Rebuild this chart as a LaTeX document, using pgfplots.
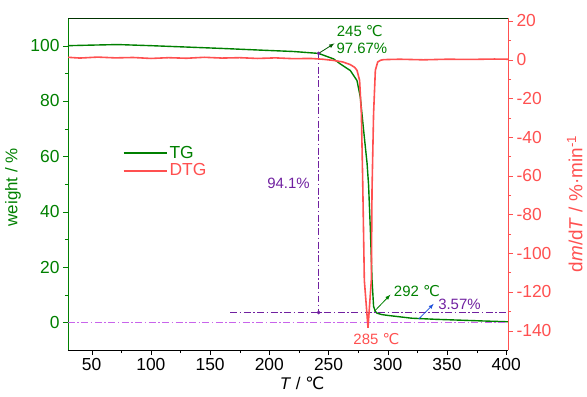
\documentclass[border=0pt]{standalone}
\usepackage{pgfplots}
\pgfplotsset{compat=1.18}
\usepackage{fontspec}
\setmainfont{Liberation Sans}
\newfontfamily\dejavu{DejaVu Sans}
\newcommand{\degC}{{\dejavu ℃}}
\definecolor{tggreen}{RGB}{0,128,0}
\definecolor{dtgred}{RGB}{255,80,80}
\definecolor{pur}{RGB}{112,32,160}
\definecolor{vio}{RGB}{200,100,235}
\definecolor{arrblue}{RGB}{30,80,220}
\tikzset{dashdot/.style={dash pattern=on 7pt off 2.5pt on 1.5pt off 2.5pt}}
\begin{document}
\begin{tikzpicture}
\begin{axis}[
  at={(0,0)}, anchor=south west,
  scale only axis, width=440bp, height=332bp,
  xmin=30, xmax=401.5, ymin=-10, ymax=110,
  axis y line*=left, axis x line*=bottom,
  x axis line style={black,-}, y axis line style={tggreen,-},
  xtick={50,100,...,400}, minor x tick num=1,
  ytick={0,20,...,100}, minor y tick num=1,
  tick align=outside,
  major tick length=5bp, minor tick length=3bp,
  x tick style={black}, y tick style={tggreen},
  tick label style={font=\fontsize{17.5}{18}\selectfont},
  yticklabel style={tggreen},
  /pgf/number format/assume math mode=true,
  xlabel={\textit{T} / \degC},
  ylabel={weight / \%},
  every axis x label/.style={at={(axis description cs:0.532,-0.099)}, anchor=center, font=\fontsize{17}{18}\selectfont},
  every axis y label/.style={at={(axis description cs:-0.125,0.49)}, rotate=90, anchor=center, font=\fontsize{17}{18}\selectfont, tggreen},
  legend style={at={(axis cs:76,64.5)}, anchor=north west, draw=none, fill=none, font=\fontsize{17.5}{18}\selectfont, row sep=0bp, inner sep=0pt},
  legend cell align=left,
  legend image code/.code={\draw[#1] (0bp,0bp) -- (43bp,0bp);},
  clip=false,
]
\addplot[tggreen, line width=1.4pt] coordinates {
(30,100.0) (50,100.2) (72,100.4) (100,100.0) (136,99.4) (160,99.0) (192,98.4)
(220,97.9) (241.6,97.2) (254.3,95.2) (259.9,93.4) (268.4,91.0) (274,87.4)
(276.8,81.4) (279.6,69.4) (282.5,57.5) (283.8,49.5) (285.3,33.4) (286.7,15.4)
(288,5.8) (289.5,3.9) (291,3.3) (295,2.8) (300,2.5) (320,1.5) (340,1.1)
(360,0.8) (380,0.5) (401.5,0.2)
};
\addlegendentry{\textcolor{tggreen}{TG}}
\addlegendimage{legend image code/.code={\draw[dtgred, line width=1.9pt] (0bp,0bp) -- (43bp,0bp);}}
\addlegendentry{\textcolor{dtgred}{DTG}}
% guide lines
\addplot[vio, line width=0.9pt, dashdot, forget plot] coordinates {(30,0) (401.5,0)};
\addplot[pur, line width=0.9pt, dashdot, forget plot] coordinates {(167,3.57) (401.5,3.57)};
\addplot[pur, line width=0.9pt, dashdot, mark=*, mark size=1.3pt, mark options={solid}, forget plot] coordinates {(241.6,97.2) (241.6,3.57)};
% annotations
\node[tggreen, font=\fontsize{15}{16}\selectfont] at (axis cs:276.4,105.2) {245 \degC};
\node[tggreen, font=\fontsize{15}{16}\selectfont] at (axis cs:278.1,98.9) {97.67\%};
\draw[-latex, tggreen!70!black, line width=0.8pt] (axis cs:241.6,97.2) -- (axis cs:254.9,100.8);
\node[pur, font=\fontsize{15}{16}\selectfont] at (axis cs:216.2,50.4) {94.1\%};
\node[tggreen, font=\fontsize{15}{16}\selectfont] at (axis cs:324.6,11.2) {292 \degC};
\draw[-latex, tggreen, line width=0.8pt] (axis cs:288.7,4.0) -- (axis cs:302.2,10.0);
\node[pur, font=\fontsize{15}{16}\selectfont] at (axis cs:360.5,6.4) {3.57\%};
\draw[-latex, arrblue, line width=0.8pt] (axis cs:326.1,1.2) -- (axis cs:338.8,6.7);
\node[dtgred, font=\fontsize{15}{16}\selectfont] at (axis cs:290.4,-5.9) {285 \degC};
\end{axis}
\begin{axis}[
  at={(0,0)}, anchor=south west,
  scale only axis, width=440bp, height=332bp,
  xmin=30, xmax=401.5, ymin=-150, ymax=21.5,
  axis y line*=right, axis x line*=top,
  x axis line style={black!80!green,-}, y axis line style={dtgred,-},
  xtick=\empty,
  ytick={-140,-120,...,20}, minor y tick num=1,
  tick align=outside,
  major tick length=5bp, minor tick length=3bp,
  y tick style={dtgred},
  tick label style={font=\fontsize{17.5}{18}\selectfont},
  yticklabel style={dtgred},
  /pgf/number format/assume math mode=true,
  ylabel={d\textit{m}/d\textit{T} / \%·min\textsuperscript{-1}},
  every axis y label/.style={at={(axis description cs:1.152,0.44)}, rotate=90, anchor=center, font=\fontsize{19}{20}\selectfont, dtgred},
]
\addplot[dtgred, line width=1.6pt] coordinates {
(30,1.2) (40,0.8) (55,1.3) (70,0.9) (85,1.1) (100,0.6) (115,1.0) (130,0.7)
(145,1.2) (160,0.8) (175,1.0) (190,0.6) (205,0.9) (220,0.5) (235,0.6) (245,0.2)
(254,-0.4) (262,-1.2) (268.4,-2.6) (272,-4.0) (274,-5.5) (276.2,-10.7)
(277.7,-28) (278.8,-62) (280.2,-114) (283.3,-138.5) (286.1,-114) (286.7,-67)
(288,-28) (289.5,-5.5) (291.5,-1.2) (294,-0.3) (296.5,0) (310,0.2) (330,-0.1)
(350,0.2) (370,0.1) (390,0.3) (401.5,0.2)
};
\end{axis}
\pgfresetboundingbox
\path[use as bounding box] (-68bp,-47bp) rectangle (519bp,350bp);
\end{tikzpicture}
\end{document}
